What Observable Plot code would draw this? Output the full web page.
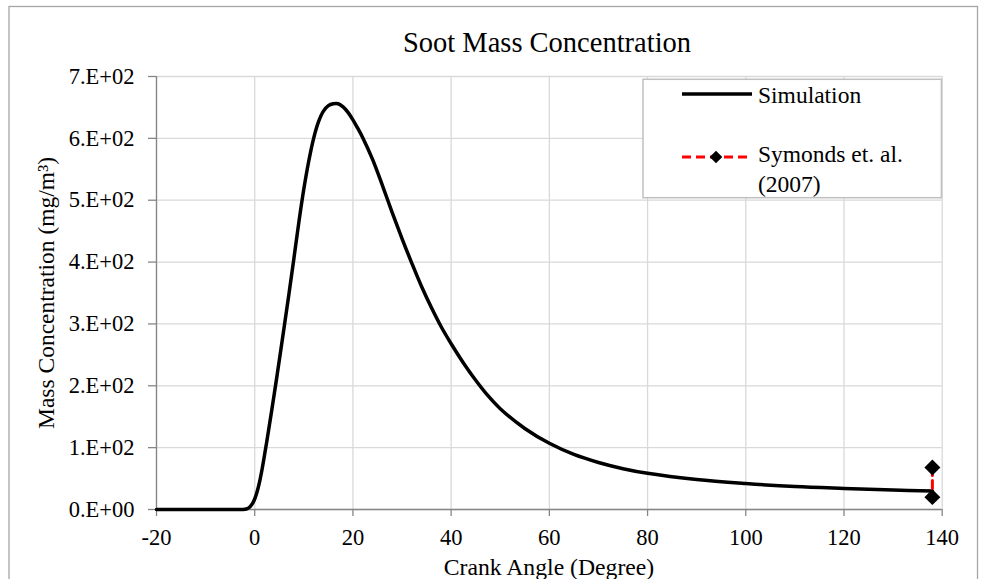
<!DOCTYPE html>
<html>
<head>
<meta charset="utf-8">
<script src="https://cdn.jsdelivr.net/npm/d3@7"></script>
<script src="https://cdn.jsdelivr.net/npm/@observablehq/plot@0.6"></script>
<style>
  html, body { margin: 0; padding: 0; background: #fff; overflow: hidden; }
  #wrap { position: relative; width: 983px; height: 579px; }
  #chart, #overlay { position: absolute; left: 0; top: 0; }
  #overlay { pointer-events: none; }
  svg text { font-family: "Liberation Serif", "Times New Roman", Times, serif !important; }
</style>
</head>
<body>
<div id="wrap">
  <div id="chart"></div>
  <svg id="overlay" width="983" height="579"></svg>
</div>
<script>
// Simulation curve (crank angle in degrees, concentration in mg/m3)
const simX = [-20, -10, -3, -2, -1.5, -1, -0.5, 0, 0.5, 1, 1.5, 2, 2.5, 3, 3.5, 4, 4.5, 5, 6, 7, 8, 9, 10, 11, 12, 13, 14, 15, 16, 17, 18, 19, 20, 21, 22, 24, 26, 28, 30, 32, 34, 36, 38, 40, 42.5, 45, 47.5, 50, 55, 60, 65, 70, 75, 80, 90, 100, 110, 120, 130, 138];
const simY = [0, 0, 0, 0.5, 1.5, 4, 9, 17, 29, 45, 65, 88, 112, 137, 162, 188, 214, 241, 295, 350, 407, 465, 518, 563, 600, 627, 644, 653, 656, 656, 651, 642, 630, 616, 601, 566, 524, 480, 438, 398, 360, 326, 295, 268, 237, 209, 184, 163, 131, 107, 89, 76, 66, 58.5, 48.5, 42, 37, 34, 31.5, 30];

// Symonds et. al. (2007) measurements
const symX = [138, 138];
const symY = [68, 20];

// Axis ticks
const xTicks = [-20, 0, 20, 40, 60, 80, 100, 120, 140];
const yTicks = [0, 100, 200, 300, 400, 500, 600, 700];
const yTickLabels = ["0.E+00", "1.E+02", "2.E+02", "3.E+02", "4.E+02", "5.E+02", "6.E+02", "7.E+02"];

// Texts
const titleText = "Soot Mass Concentration";
const xLabel = "Crank Angle (Degree)";
const yLabel = "Mass Concentration (mg/m³)";
const seriesNames = ["Simulation", "Symonds et. al.", "(2007)"];

const sim = simX.map((x, i) => ({x, y: simY[i]}));
const sym = symX.map((x, i) => ({x, y: symY[i]}));

const gridColor = "#d9d9d9";
const axisColor = "#868686";
const serif = "'Liberation Serif', 'Times New Roman', Times, serif";

const plot = Plot.plot({
  width: 983,
  height: 579,
  marginLeft: 156,
  marginRight: 41.3,
  marginTop: 76,
  marginBottom: 70,
  x: {domain: [-20, 140]},
  y: {domain: [0, 700]},
  style: {
    fontFamily: serif,
    fontSize: "22.5px",
    color: "#000",
    background: "transparent",
    overflow: "visible"
  },
  marks: [
    Plot.gridX(xTicks, {stroke: gridColor, strokeOpacity: 1, strokeWidth: 1.3}),
    Plot.gridY(yTicks, {stroke: gridColor, strokeOpacity: 1, strokeWidth: 1.3}),
    Plot.ruleX([-20], {stroke: axisColor, strokeWidth: 1.3}),
    Plot.ruleY([0], {stroke: axisColor, strokeWidth: 1.3}),
    Plot.axisX(xTicks, {
      anchor: "bottom", tickSize: 7, tickPadding: 13, stroke: axisColor, strokeWidth: 1.3,
      fill: "#000", label: null, tickFormat: d => String(d)
    }),
    Plot.axisY(yTicks, {
      anchor: "left", tickSize: 8, tickPadding: 14, stroke: axisColor, strokeWidth: 1.3,
      fill: "#000", label: null, tickFormat: d => yTickLabels[yTicks.indexOf(d)]
    }),
    Plot.line(sim, {x: "x", y: "y", stroke: "#000", strokeWidth: 3.5, curve: "catmull-rom"}),
    Plot.line(sym, {x: "x", y: "y", stroke: "#ff0000", strokeWidth: 3, strokeDasharray: "8,5"}),
    Plot.dot(sym, {x: "x", y: "y", symbol: "diamond2", r: 7.2, fill: "#000", stroke: "none"})
  ]
});
document.getElementById("chart").appendChild(plot);

// Overlay: chart border, title, axis labels, legend
const ov = d3.select("#overlay");
ov.append("rect").attr("x", 9).attr("y", 6.5).attr("width", 968.5).attr("height", 620)
  .attr("fill", "none").attr("stroke", "#a6a6a6").attr("stroke-width", 1.3);

ov.append("text").attr("x", 547).attr("y", 51.7).attr("text-anchor", "middle")
  .attr("font-size", 28.5).attr("fill", "#000").text(titleText);

ov.append("text").attr("x", 549).attr("y", 575).attr("text-anchor", "middle")
  .attr("font-size", 23.7).attr("fill", "#000").text(xLabel);

ov.append("text").attr("transform", "translate(54,293) rotate(-90)").attr("text-anchor", "middle")
  .attr("font-size", 23.5).attr("fill", "#000").text(yLabel);

// Legend
const lg = ov.append("g");
lg.append("rect").attr("x", 643).attr("y", 79.3).attr("width", 298.4).attr("height", 118.4)
  .attr("fill", "#fff").attr("stroke", "#c0c0c0").attr("stroke-width", 1.5);
lg.append("line").attr("x1", 682).attr("x2", 752).attr("y1", 94).attr("y2", 94)
  .attr("stroke", "#000").attr("stroke-width", 3.5);
lg.append("line").attr("x1", 682).attr("x2", 752).attr("y1", 157).attr("y2", 157)
  .attr("stroke", "#ff0000").attr("stroke-width", 3).attr("stroke-dasharray", "9,5");
lg.append("path").attr("d", "M716,150.7L722.3,157L716,163.3L709.7,157Z").attr("fill", "#000");
lg.append("text").attr("x", 758).attr("y", 103).attr("font-size", 23.5).attr("fill", "#000").text(seriesNames[0]);
lg.append("text").attr("x", 758).attr("y", 161.7).attr("font-size", 23.5).attr("fill", "#000").text(seriesNames[1]);
lg.append("text").attr("x", 758).attr("y", 191.7).attr("font-size", 23.5).attr("fill", "#000").text(seriesNames[2]);
</script>
</body>
</html>
